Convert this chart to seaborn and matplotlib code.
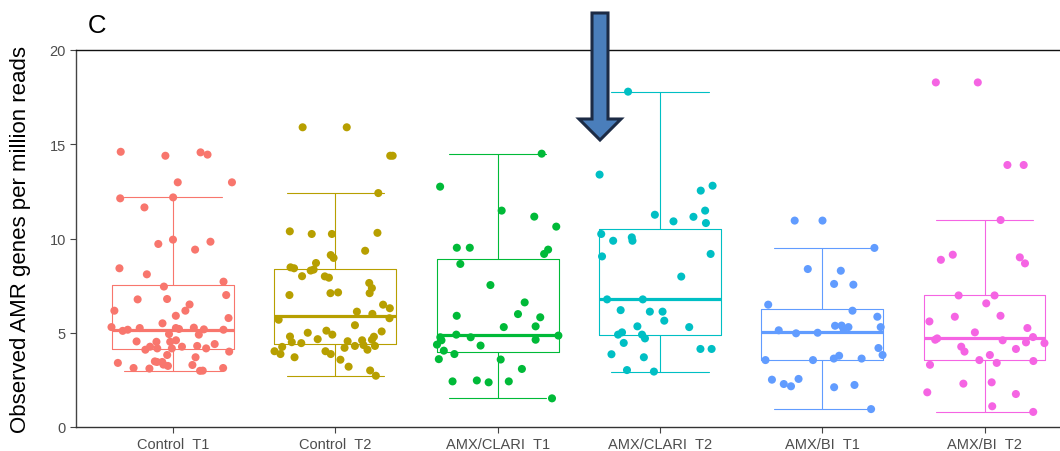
import numpy as np
import pandas as pd
import matplotlib
matplotlib.use("Agg")
import matplotlib.pyplot as plt
import seaborn as sns
from matplotlib.patches import Polygon

categories = ["Control  T1", "Control  T2", "AMX/CLARI  T1",
              "AMX/CLARI  T2", "AMX/BI  T1", "AMX/BI  T2"]
palette = ["#F8766D", "#B79F00", "#00BA38", "#00BFC4", "#619CFF", "#F564E3"]

control_t1 = [14.6, 14.45, 14.39, 14.57, 12.98, 12.98, 12.18, 12.13, 11.65, 9.94,
              9.41, 9.83, 9.71, 8.42, 8.10, 7.71, 6.77, 6.79, 7.00, 6.17, 6.17,
              5.78, 5.25, 5.20, 5.16, 5.16, 5.25, 5.18, 5.27, 4.93, 4.54, 4.17,
              4.17, 4.52, 4.52, 4.40, 4.17, 4.26, 4.26, 4.10, 3.82, 3.48, 3.29,
              3.45, 3.24, 2.98, 3.45, 3.13, 3.13, 2.99, 3.31,
              7.45, 6.5, 5.9, 5.5, 5.3, 5.1, 4.9, 4.6, 4.3, 4.0, 3.7, 3.4, 3.1]
control_t2 = [15.9, 15.9, 14.39, 14.39, 12.41, 10.24, 10.3, 10.38, 10.24, 9.12,
              9.35, 8.97, 8.47, 8.70, 8.35, 8.30, 8.42, 7.99, 7.92, 7.64,
              7.37, 7.14, 7.10, 7.10, 6.49, 6.12, 6.0, 5.77, 5.69, 5.07,
              5.0, 4.9, 4.63, 4.6, 4.5, 4.3, 4.25, 4.66, 4.79, 5.11,
              4.55, 4.35, 4.3, 4.1, 4.02, 4.02, 3.87, 3.87, 3.57, 3.2, 2.72,
              6.3, 7.0, 8.0, 5.4, 4.8, 4.45, 4.2, 3.7, 3.0]
clari_t1 = [14.5, 12.75, 11.48, 11.16, 10.63, 9.51, 9.51, 9.18, 9.41, 8.65,
            7.53, 6.61, 5.82, 5.9, 5.99, 5.34, 5.3, 4.9, 4.76, 4.76, 4.63, 4.6,
            4.37, 4.32, 4.05, 3.87, 3.6, 3.58, 3.08, 2.37, 2.42, 2.47, 2.42,
            1.52, 4.85]
clari_t2 = [17.79, 13.39, 12.54, 12.8, 11.26, 11.15, 11.48, 10.91, 10.82, 10.24,
            10.06, 9.88, 9.88, 9.18, 9.05, 7.98, 6.77, 6.77, 6.12, 6.2, 6.12,
            5.64, 5.34, 5.3, 4.9, 5.02, 4.9, 4.7, 4.46, 4.14, 4.14, 3.86, 3.7,
            3.02, 2.94]
bi_t1 = [10.95, 10.95, 9.5, 8.38, 8.29, 7.59, 7.55, 6.49, 6.17, 5.85, 5.37,
         4.97, 5.2, 5.3, 5.38, 5.13, 5.3, 4.19, 3.55, 3.63, 3.55, 3.82, 3.63,
         3.78, 2.23, 2.28, 2.55, 2.16, 2.11, 2.51, 0.95, 5.0]
bi_t2 = [18.28, 18.28, 13.9, 13.9, 10.98, 9.14, 9.0, 8.87, 8.68, 6.98, 6.98,
         6.56, 5.9, 5.85, 5.25, 5.02, 4.77, 4.49, 4.63, 4.6, 4.26, 4.14, 3.82,
         3.55, 3.5, 3.3, 2.37, 2.3, 1.84, 1.75, 1.1, 0.8,
         3.4, 4.0, 4.45, 4.7, 5.6]

yticks = [0, 5, 10, 15, 20]
ylabel = "Observed AMR genes per million reads"

groups = [control_t1, control_t2, clari_t1, clari_t2, bi_t1, bi_t2]
df = pd.DataFrame({
    "group": np.concatenate([[c] * len(g) for c, g in zip(categories, groups)]),
    "value": np.concatenate(groups),
})

sns.set_theme(style="white")
plt.rcParams["font.family"] = ["Liberation Sans", "DejaVu Sans"]

fig = plt.figure(figsize=(10.6, 4.52), dpi=100)
ax = fig.add_axes([75.6 / 1060, 24 / 452, (1082 - 75.6) / 1060, 377 / 452])

sns.boxplot(data=df, x="group", y="value", hue="group", order=categories,
            hue_order=categories, palette=palette, fill=False, width=0.75,
            linewidth=0.8, showfliers=False, whis=1.5,
            medianprops=dict(linewidth=2.3), capwidths=0.6,
            legend=False, ax=ax)

np.random.seed(7)
sns.stripplot(data=df, x="group", y="value", hue="group", order=categories,
              hue_order=categories, palette=palette, jitter=0.38, size=5.8,
              linewidth=0, legend=False, zorder=3, ax=ax)

ax.set_xlim(-0.6, 5.6)
ax.set_ylim(0, 20)
ax.set_yticks(yticks)
ax.set_xlabel("")
ax.set_ylabel(ylabel, fontsize=16, color="black", labelpad=13)

for side in ["left", "bottom", "top", "right"]:
    ax.spines[side].set_visible(True)
    ax.spines[side].set_linewidth(1.0)
ax.spines["left"].set_color("#444444")
ax.spines["bottom"].set_color("#333333")
ax.spines["top"].set_color("#111111")
ax.spines["right"].set_color("#111111")

ax.tick_params(axis="both", bottom=True, left=True, length=4, width=0.8,
               color="#444444", labelcolor="#4D4D4D", labelsize=10.5, pad=3)
ax.grid(False)

fig.text(88 / 1060, 1 - 33 / 452, "C", fontsize=18.5, color="black",
         ha="left", va="baseline")

# Decorative annotation arrow
px = [(592, 14), (608, 14), (608, 120), (621, 120), (600, 141), (579, 120), (592, 120)]
verts = [(x / 1060, 1 - y / 452) for x, y in px]
arrow = Polygon(verts, closed=True, transform=fig.transFigure,
                facecolor="#4A7EBB", edgecolor="#1C2B45", linewidth=2.2,
                joinstyle="miter", zorder=10)
fig.add_artist(arrow)

fig.savefig("out.png", dpi=100)
